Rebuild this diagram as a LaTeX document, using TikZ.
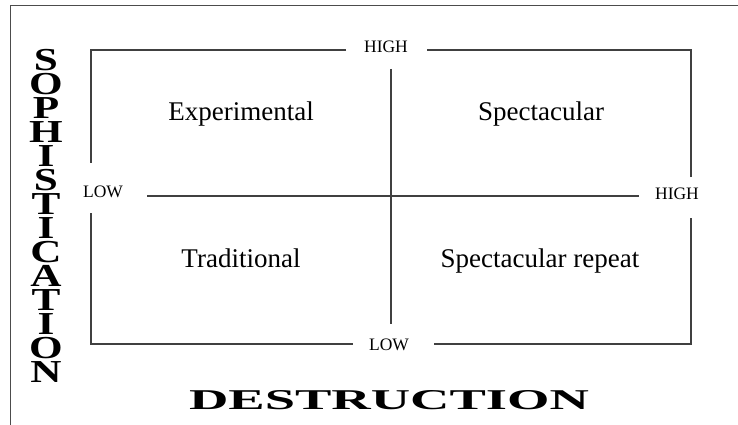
\documentclass[tikz,border=0pt]{standalone}
\usepackage{fontspec}
\setmainfont{Liberation Serif}
\newfontfamily\sophfont[FakeStretch=1.35]{Liberation Serif}
\newfontfamily\destfont[FakeStretch=1.9]{Liberation Serif}
\begin{document}
\begin{tikzpicture}[x=1pt,y=-1pt,
  frame/.style={draw=black!75, line width=1.1pt},
  outer/.style={draw=black!70, line width=1pt},
  axislabel/.style={inner sep=0pt, anchor=base, font=\fontsize{17.5}{20}\selectfont},
  quadlabel/.style={inner sep=0pt, anchor=base, font=\fontsize{27}{30}\selectfont}]
\useasboundingbox (0,0) rectangle (738,425);
% outer frame (only top and left visible)
\coordinate (oTL) at (10,6);
\coordinate (oTR) at (738,6);
\coordinate (oBL) at (10,425);
\draw[outer] (oTR) -- (oTL) -- (oBL);
% inner box coordinates
\coordinate (tl) at (91,50);
\coordinate (tr) at (691,50);
\coordinate (br) at (691,344);
\coordinate (bl) at (91,344);
\coordinate (t1) at (346,50);
\coordinate (t2) at (427,50);
\coordinate (r1) at (691,177);
\coordinate (r2) at (691,218);
\coordinate (b1) at (434,344);
\coordinate (b2) at (353,344);
\coordinate (l1) at (91,213);
\coordinate (l2) at (91,163);
\coordinate (vTop) at (391,69);
\coordinate (vBot) at (391,324);
\coordinate (hL) at (147,196);
\coordinate (hR) at (639,196);
\draw[frame] (t1) -- (tl) -- (l2);
\draw[frame] (l1) -- (bl) -- (b2);
\draw[frame] (b1) -- (br) -- (r2);
\draw[frame] (r1) -- (tr) -- (t2);
\draw[frame] (vTop) -- (vBot);
\draw[frame] (hL) -- (hR);
% axis labels
\node[axislabel] (highTop) at (386,52.5) {HIGH};
\node[axislabel] (lowLeft) at (103,197) {LOW};
\node[axislabel] (highRight) at (677,199) {HIGH};
\node[axislabel] (lowBottom) at (389,350) {LOW};
% quadrant labels
\node[quadlabel] (exp) at (241,121) {Experimental};
\node[quadlabel] (spec) at (541,121) {Spectacular};
\node[quadlabel] (trad) at (241,267) {Traditional};
\node[quadlabel] (specrep) at (540,267) {Spectacular repeat};
% axis titles
\node[inner sep=0pt, align=center, font=\sophfont\bfseries\fontsize{32}{24}\selectfont] (soph) at (46,216)
  {S\\O\\P\\H\\I\\S\\T\\I\\C\\A\\T\\I\\O\\N};
\node[inner sep=0pt, anchor=base, font=\destfont\bfseries\fontsize{28.7}{30}\selectfont] (dest) at (389,409) {DESTRUCTION};
\end{tikzpicture}
\end{document}
